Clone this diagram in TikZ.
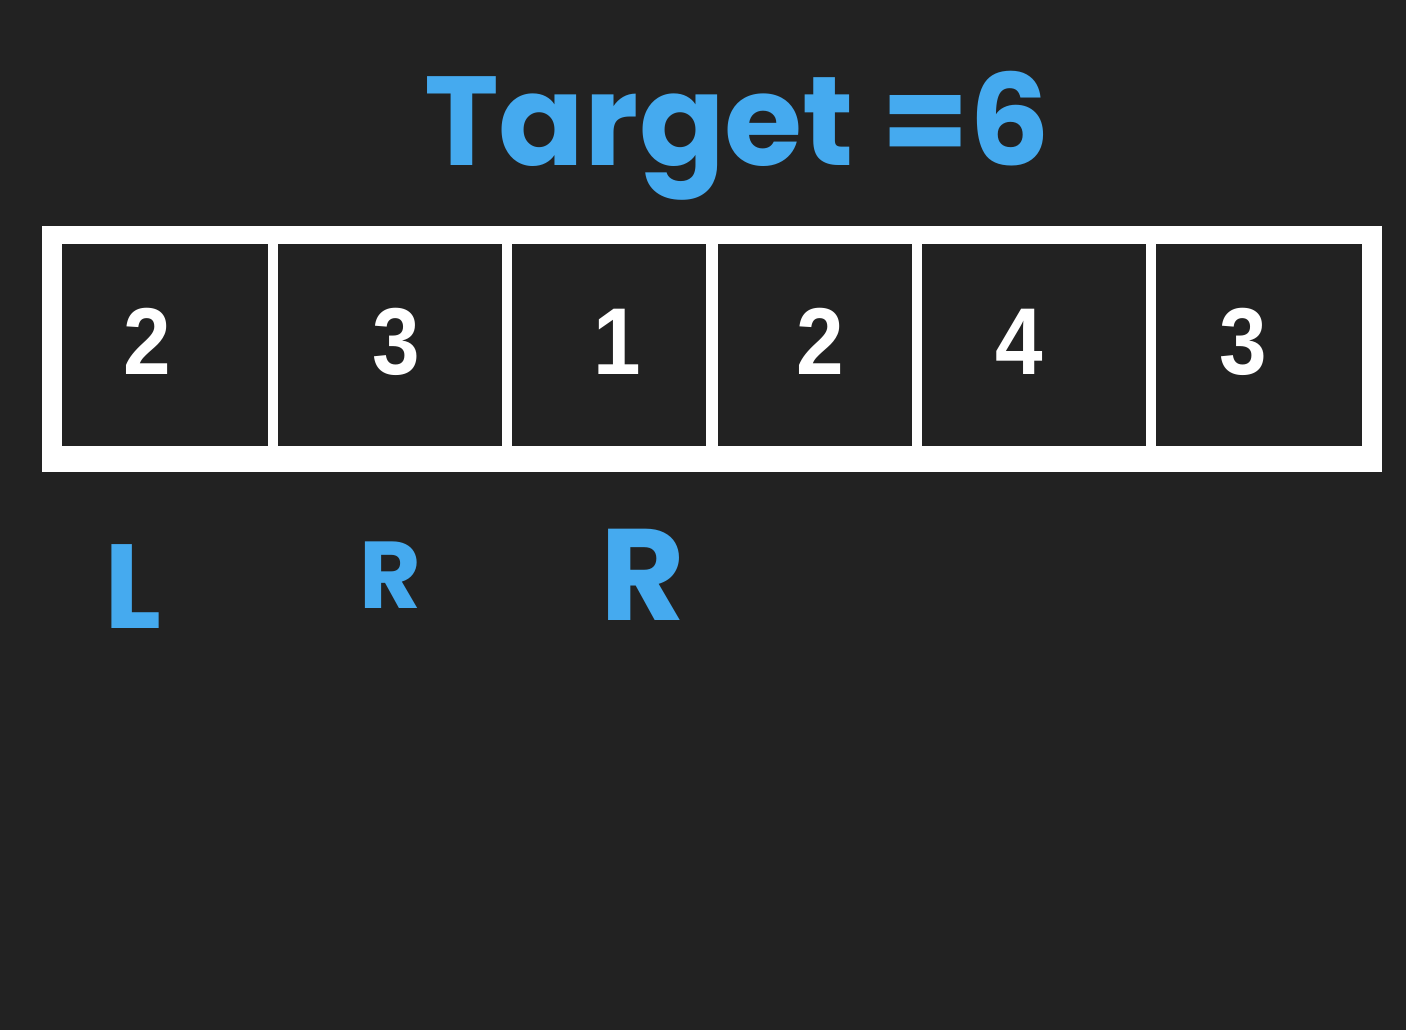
\documentclass[tikz,border=0pt]{standalone}
\usepackage{fontspec}
\setmainfont{Liberation Sans}
\newfontfamily\numfont[FakeStretch=0.9]{Liberation Sans}
\newfontfamily\handfont{Poppins}
\usetikzlibrary{positioning}

\definecolor{board}{HTML}{222222}
\definecolor{ink}{HTML}{45AAEF}

\begin{document}
\begin{tikzpicture}[
  x=0.01cm,y=-0.01cm,
  cell/.style={fill=board,minimum height=2.02cm,inner sep=0pt},
  num/.style={text=white,inner sep=0pt,anchor=base,
    font=\numfont\bfseries\fontsize{27}{29}\selectfont},
  hand/.style={text=ink,font=\handfont\bfseries\fontsize{#1}{#1}\selectfont,
    inner sep=0pt,anchor=base}
]
\fill[board] (0,0) rectangle (1406,1030);
\useasboundingbox (0,0) rectangle (1406,1030);

% outer frame of the array
\fill[white] (42,226) rectangle (1382,472);

% cells: left edge / width / name
\foreach \x/\w/\n in {62/206/c1, 278/224/c2, 512/194/c3,
                      718/194/c4, 922/224/c5, 1156/206/c6}
  \node[cell,minimum width=\w*0.01cm] (\n) at (\x+\w/2,345) {};

% values
\foreach \x/\v/\n in {147/2/v1, 396/3/v2, 617/1/v3,
                      820/2/v4, 1019/4/v5, 1243/3/v6}
  \node[num] (\n) at (\x,374) {\v};

\node[hand=36] (target) at (737,165) {Target =6};

% pointers
\node[hand=34] (ptrL) at (133,628) {L};
\node[hand=27] (ptrR1) at (390,608) {R};
\node[hand=37] (ptrR2) at (643,620) {R};
\end{tikzpicture}
\end{document}
